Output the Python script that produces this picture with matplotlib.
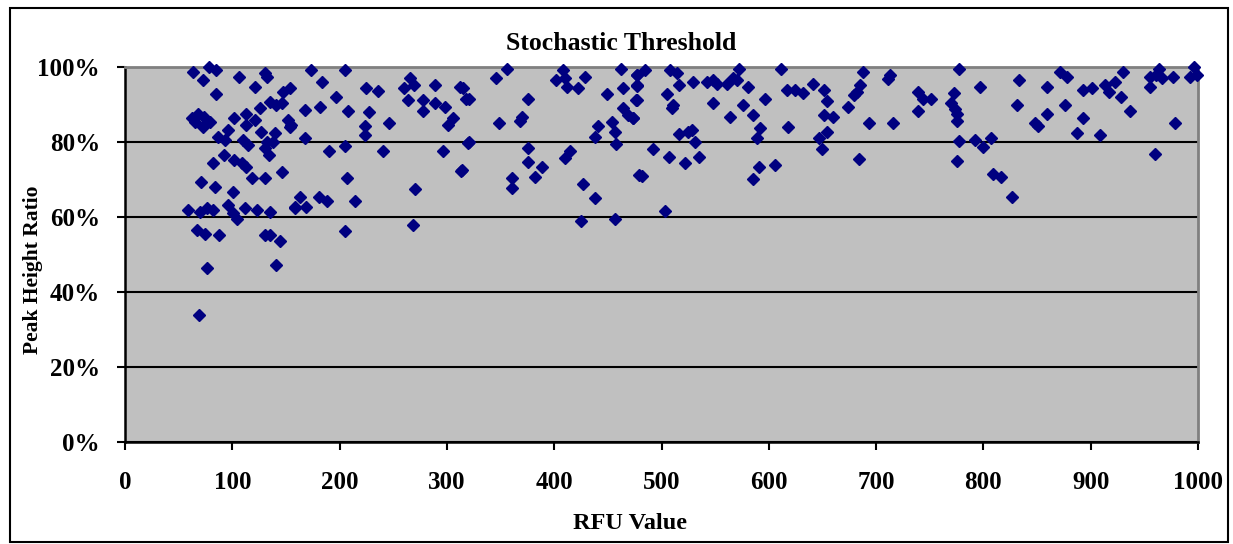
import matplotlib.pyplot as plt
from matplotlib.patches import Rectangle
from matplotlib.ticker import PercentFormatter

# RFU value / peak height ratio (%)
rfu = [63, 78, 85, 73, 106, 85, 121, 130, 132, 154, 147,
       62, 68, 74, 79, 73, 65, 102, 113, 113, 121, 126, 135, 141, 146, 152, 154,
       96, 87, 93, 110, 115, 127, 140, 132, 138, 130, 134, 92, 82, 102, 109, 113,
       146, 118, 130, 71, 84, 101, 59, 70, 76, 82, 96, 101, 104, 112, 123, 135,
       158, 67, 75, 88, 130, 135, 144, 76, 141, 69,
       173, 205, 184, 197, 225, 236, 168, 182, 208, 227, 224, 224, 246, 155,
       168, 190, 205, 240, 260, 266, 269, 264, 278, 289, 278, 289, 298, 306,
       301, 312, 318, 296, 320, 313, 207, 270, 163, 158, 169, 181, 188, 214,
       205, 268,
       356, 346, 315, 321, 376, 349, 370, 368, 321, 314, 376, 376, 389, 382,
       361, 361, 408, 402, 410, 412, 429, 422, 449, 462, 464, 477, 477, 476,
       464, 469, 473, 441, 454, 457, 438, 458, 415, 410, 427, 438, 425, 457, 479,
       485, 477, 477, 477, 473, 508, 514, 516, 505, 511, 510, 529, 542, 548, 552, 561,
       567, 572, 570, 581, 596, 611, 617, 624, 632, 548, 576, 564, 585, 618,
       592, 589, 516, 525, 528, 531, 492, 507, 522, 535, 482, 591, 585, 606, 503,
       641, 651, 654, 651, 660, 654, 647, 650, 688, 685, 682, 679, 674, 693,
       684, 713, 711, 716, 739, 744, 751, 739, 777, 773, 770, 774, 775, 775,
       777, 775, 797,
       792, 800, 807, 809, 816, 827, 833, 831, 859, 859, 848, 851, 871, 878,
       876, 893, 887, 893, 901, 913, 917, 923, 930, 928, 937, 909, 955, 955,
       964, 961, 966, 977, 979, 960, 996, 993, 999]
ratio = [98.6, 100, 99.2, 96.5, 97.4, 92.7, 94.8, 98.3, 97.4, 94.3, 93.4,
         86.3, 87.6, 86.7, 85.4, 84.0, 85.4, 86.3, 87.6, 84.5, 85.9, 89.0, 90.7,
         89.9, 90.3, 85.9, 84.1,
         83.2, 81.4, 80.5, 80.5, 79.2, 82.7, 82.3, 80.0, 80.0, 78.3, 76.5, 76.5,
         74.3, 75.2, 74.3, 73.4, 72.1, 70.3, 70.3, 69.4, 68.1, 66.7, 61.9, 61.4,
         62.3, 61.9, 63.2, 61.0, 59.6, 62.3, 61.9, 61.4, 62.7, 56.5, 55.6, 55.2,
         55.2, 55.2, 53.7, 46.3, 47.2, 34.0,
         99.2, 99.2, 95.9, 92.1, 94.3, 93.7, 88.5, 89.4, 88.3, 87.9, 84.3, 81.9,
         85.1, 84.5, 81.0, 77.6, 78.9, 77.6, 94.3, 97.0, 95.2, 91.2, 91.2, 95.2,
         88.3, 90.3, 89.4, 86.3, 84.5, 94.8, 91.6, 77.6, 79.7, 72.4, 70.3, 67.6,
         65.4, 62.3, 62.7, 65.4, 64.3, 64.3, 56.3, 57.9,
         99.6, 97.0, 94.3, 91.6, 91.6, 85.1, 86.7, 85.6, 79.9, 72.5, 78.3, 74.6,
         73.4, 70.7, 70.3, 67.8, 99.2, 96.5, 97.0, 94.8, 97.4, 94.3, 92.7, 99.6,
         94.3, 97.9, 95.2, 91.2, 89.2, 87.2, 86.3, 84.3, 85.4, 82.6, 81.4, 79.4,
         77.6, 75.7, 68.7, 65.0, 59.0, 59.6, 71.2,
         99.2, 98.0, 95.0, 91.2, 86.3, 99.2, 98.3, 95.2, 92.7, 90.0, 89.0, 95.9,
         95.9, 96.5, 95.6, 95.6, 97.0, 99.6, 96.5, 94.8, 91.6, 99.6, 93.9, 93.9,
         93.2, 90.3, 90.0, 86.7, 87.2, 84.1, 83.8, 81.0, 82.1, 82.7, 83.2, 79.9,
         78.1, 76.1, 74.5, 76.1, 71.0, 73.4, 70.1, 74.0, 61.7,
         95.4, 93.9, 90.9, 87.2, 86.7, 82.7, 81.1, 78.1, 98.7, 95.2, 93.4, 92.5,
         89.4, 85.1, 75.5, 97.9, 96.8, 85.1, 93.4, 91.6, 91.5, 88.3, 99.6, 93.2,
         90.3, 88.8, 87.6, 85.6, 80.3, 74.9, 94.8,
         80.5, 78.8, 81.1, 71.4, 70.7, 65.4, 96.5, 89.9, 94.8, 87.4, 85.0, 84.3,
         98.7, 97.4, 90.0, 86.3, 82.5, 93.9, 94.3, 95.2, 93.4, 96.1, 98.6, 92.1,
         88.3, 82.0, 97.4, 94.8, 99.6, 97.9, 97.0, 97.4, 85.1, 76.7, 100, 97.4, 98.0]

xticks = [0, 100, 200, 300, 400, 500, 600, 700, 800, 900, 1000]
yticks = [0, 20, 40, 60, 80, 100]

plt.rcParams['font.family'] = 'Liberation Serif'
plt.rcParams['font.weight'] = 'bold'

fig = plt.figure(figsize=(12.33, 5.44), dpi=100)
ax = fig.add_axes([0.1014, 0.1875, 0.8702, 0.6893])
ax.set_facecolor('#c0c0c0')

ax.plot(rfu, ratio, 'D', color='#000080', ms=6.6, clip_on=False, zorder=3)

ax.set_xlim(0, 1000)
ax.set_ylim(0, 100)
ax.set_xticks(xticks)
ax.set_yticks(yticks)
ax.yaxis.set_major_formatter(PercentFormatter(decimals=0))
ax.grid(axis='y', color='black', lw=1.5)
ax.set_axisbelow(True)

ax.tick_params(direction='out', length=6, width=1.5, labelsize=18)
ax.tick_params(axis='y', pad=12)
ax.tick_params(axis='x', pad=15)
for s in ['left', 'bottom']:
    ax.spines[s].set_linewidth(1.8)
for s in ['top', 'right']:
    ax.spines[s].set_color('#808080')
    ax.spines[s].set_linewidth(2)

# title and x label sit centred on the chart area, not the plot area
ax.set_title('Stochastic Threshold', fontsize=18.5, fontweight='bold', pad=12, x=0.462)
ax.set_xlabel('RFU Value', fontsize=17.5, fontweight='bold')
ax.xaxis.set_label_coords(0.4706, -0.19)
ax.set_ylabel('Peak Height Ratio', fontsize=15.5, fontweight='bold')
ax.yaxis.set_label_coords(-0.076, 0.46)

fig.patches.append(Rectangle((0.008, 0.004), 0.988, 0.982, transform=fig.transFigure,
                             fill=False, edgecolor='black', lw=1.5))

plt.savefig('out.png', dpi=100)
